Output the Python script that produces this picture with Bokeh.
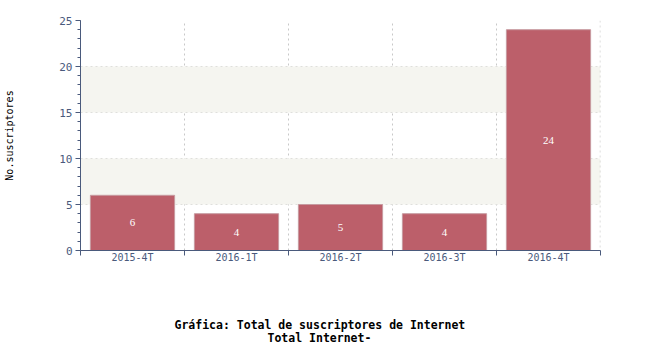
from bokeh.plotting import figure
from bokeh.models import (ColumnDataSource, FixedTicker, Range1d, BoxAnnotation,
                          Title, LabelSet, Span)
from bokeh.embed import file_html
from bokeh.resources import INLINE

categories = ["2015-4T", "2016-1T", "2016-2T", "2016-3T", "2016-4T"]
values = [6, 4, 5, 4, 24]
y_ticks = [0, 5, 10, 15, 20, 25]
title_line1 = "Gráfica: Total de suscriptores de Internet"
title_line2 = "Total Internet-"
y_label = "No.suscriptores"

n = len(categories)
xs = [i + 0.5 for i in range(n)]
src = ColumnDataSource(dict(x=xs, top=values, mid=[v / 2 for v in values],
                            lab=[str(v) for v in values]))

MONO = "DejaVu Sans Mono"
AXC = "#4a5a7c"

p = figure(width=650, height=350, output_backend="svg", toolbar_location=None,
           x_range=Range1d(0, n), y_range=Range1d(0, 25),
           min_border_left=80, min_border_right=50, min_border_top=20,
           min_border_bottom=100, background_fill_color="white",
           border_fill_color="white", outline_line_color=None)

# alternating bands
for lo, hi in [(5, 10), (15, 20)]:
    p.add_layout(BoxAnnotation(bottom=lo, top=hi, fill_color="#f5f5f0",
                               fill_alpha=1, line_color=None, level="underlay"))

p.vbar(x="x", top="top", width=0.81, source=src, fill_color="#bc5f6a",
       line_color="#c79aa0", line_width=1)

p.add_layout(LabelSet(x="x", y="mid", text="lab", source=src,
                      text_color="white", text_font_size="11px",
                      text_font="DejaVu Sans", text_align="center",
                      text_baseline="middle"))

# x axis: labels at centers, ticks at boundaries
xa = p.xaxis[0]
xa.ticker = FixedTicker(ticks=xs, minor_ticks=list(range(n + 1)))
xa.major_label_overrides = {x: c for x, c in zip(xs, categories)}
xa.major_tick_out = 0
xa.major_tick_in = 0
xa.minor_tick_out = 5
xa.minor_tick_in = 0
xa.minor_tick_line_color = AXC
xa.axis_line_color = AXC
xa.major_label_text_color = AXC
xa.major_label_text_font = MONO
xa.major_label_text_font_size = "10px"
xa.major_label_standoff = -4

ya = p.yaxis[0]
ya.ticker = FixedTicker(ticks=y_ticks, minor_ticks=list(range(26)))
ya.major_tick_out = 5
ya.major_tick_in = 0
ya.minor_tick_out = 3
ya.minor_tick_in = 0
ya.major_tick_line_color = AXC
ya.minor_tick_line_color = AXC
ya.axis_line_color = AXC
ya.major_label_text_color = AXC
ya.major_label_text_font = MONO
ya.major_label_text_font_size = "11px"
ya.major_label_standoff = 3
ya.axis_label = y_label
ya.axis_label_text_font = MONO
ya.axis_label_text_font_size = "10px"
ya.axis_label_text_font_style = "normal"
ya.axis_label_text_color = "black"
ya.axis_label_standoff = 41

p.xgrid.ticker = FixedTicker(ticks=list(range(n + 1)))
p.xgrid.grid_line_color = "#c8c8c8"
p.xgrid.grid_line_dash = "2 3"
p.ygrid.ticker = FixedTicker(ticks=y_ticks)
p.ygrid.grid_line_color = "#c8c8c8"
p.ygrid.grid_line_dash = "2 3"
p.add_layout(Span(location=n - 0.002, dimension="height", line_color="#c8c8c8",
                  line_dash="2 3", line_width=1))

# bottom titles
spacer = Title(text=" ", text_font_size="2px", standoff=46, align="center")
p.add_layout(spacer, "below")
for txt, so, off in [(title_line1, 0, 94), (title_line2, -5, 187)]:
    p.add_layout(Title(text=txt, text_font=MONO, text_font_size="11.5px",
                       text_font_style="bold", text_color="black",
                       align="left", standoff=so, offset=off), "below")

open("out.html", "w").write(file_html(p, INLINE))
